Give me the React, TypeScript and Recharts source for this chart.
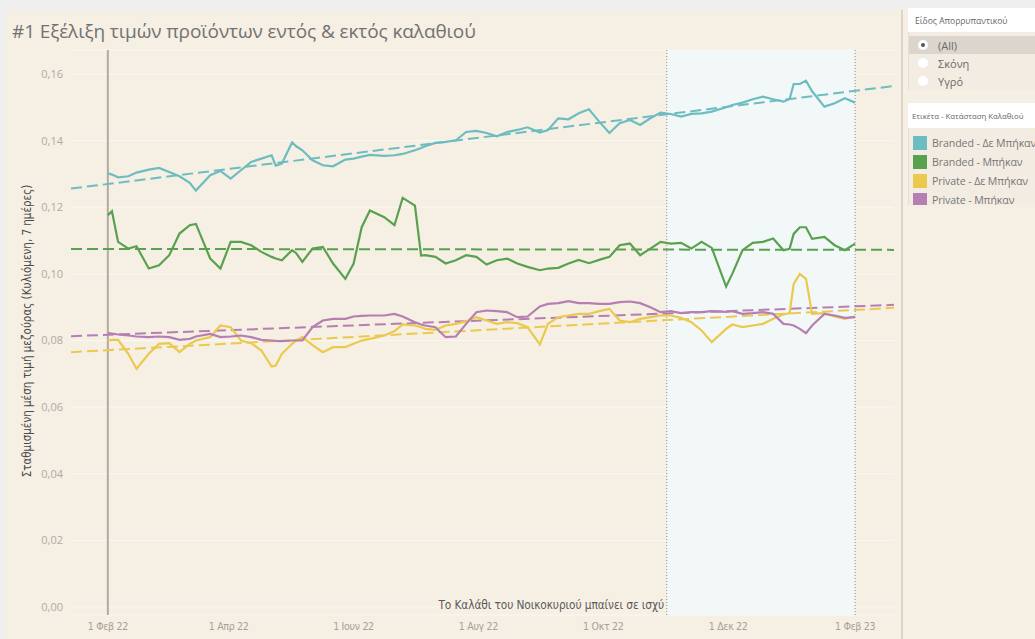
import React from 'react';
import {
  ComposedChart,
  Line,
  XAxis,
  YAxis,
  CartesianGrid,
  ReferenceArea,
  ReferenceLine,
} from 'recharts';

// days since 1 Feb 2022
const days = [
  0, 2, 5, 10, 14, 20, 25, 30, 35, 40, 43, 50, 55, 60, 65, 70, 75, 80, 82, 85,
  90, 92, 95, 100, 105, 110, 116, 120, 124, 128, 135, 140, 144, 150, 153, 155, 160, 165, 170, 175,
  180, 185, 190, 195, 200, 205, 211, 215, 220, 225, 230, 235, 240, 245, 250, 255, 260, 265, 270, 275,
  280, 285, 290, 295, 302, 305, 310, 315, 320, 325, 330, 333, 335, 338, 341, 344, 350, 355, 360, 365,
];

const brandedOut = [
  0.1302, 0.1298, 0.129, 0.1293, 0.1304, 0.1313, 0.1318, 0.1306, 0.1293, 0.1273,
  0.125, 0.1296, 0.1309, 0.1286, 0.1311, 0.1336, 0.1346, 0.1356, 0.1325, 0.1331,
  0.1395, 0.1383, 0.1371, 0.1341, 0.1326, 0.1323, 0.1343, 0.1346, 0.1352, 0.1357,
  0.1354, 0.1356, 0.136, 0.1371, 0.1378, 0.1383, 0.1393, 0.1396, 0.1401, 0.1426,
  0.1429, 0.1423, 0.1413, 0.1426, 0.1432, 0.144, 0.1424, 0.1432, 0.1467, 0.1464,
  0.1482, 0.1494, 0.1457, 0.1423, 0.1452, 0.1462, 0.1447, 0.1467, 0.1484, 0.148,
  0.1472, 0.148, 0.1482, 0.1487, 0.15, 0.1507, 0.1514, 0.1524, 0.1532, 0.1524,
  0.1517, 0.1525, 0.157, 0.157, 0.158, 0.1548, 0.1502, 0.1512, 0.1527, 0.1514,
];

const brandedIn = [
  0.1176, 0.1188, 0.1096, 0.1076, 0.1083, 0.1016, 0.1026, 0.1056, 0.1121, 0.1146,
  0.115, 0.1046, 0.1016, 0.1096, 0.1096, 0.1086, 0.1066, 0.1051, 0.1046, 0.1041,
  0.1071, 0.1062, 0.1036, 0.1076, 0.1081, 0.1031, 0.0985, 0.103, 0.114, 0.119,
  0.117, 0.1146, 0.1228, 0.1205, 0.1055, 0.1056, 0.1051, 0.1031, 0.1041, 0.1056,
  0.1051, 0.1028, 0.1041, 0.1046, 0.1031, 0.1021, 0.1011, 0.1016, 0.1018, 0.1031,
  0.1042, 0.1032, 0.1042, 0.1051, 0.1086, 0.1091, 0.1056, 0.1076, 0.1096, 0.1091,
  0.1093, 0.1076, 0.1096, 0.1078, 0.0962, 0.1, 0.1071, 0.1093, 0.1096, 0.1106,
  0.1071, 0.1075, 0.112, 0.114, 0.114, 0.1105, 0.1111, 0.1086, 0.1071, 0.1091,
];

const privateOut = [
  0.08, 0.0802, 0.0802, 0.076, 0.0715, 0.076, 0.079, 0.0792, 0.0765, 0.079,
  0.08, 0.081, 0.0845, 0.084, 0.08, 0.0792, 0.077, 0.0722, 0.0725, 0.076,
  0.079, 0.08, 0.081, 0.0786, 0.0765, 0.078, 0.078, 0.079, 0.08, 0.0805,
  0.0815, 0.0828, 0.0848, 0.0845, 0.084, 0.0835, 0.0832, 0.0845, 0.085, 0.0858,
  0.087, 0.086, 0.085, 0.0855, 0.0852, 0.084, 0.0788, 0.085, 0.087, 0.0875,
  0.088, 0.088, 0.0888, 0.0895, 0.086, 0.0855, 0.0865, 0.087, 0.0875, 0.0875,
  0.0868, 0.0855, 0.083, 0.0795, 0.0835, 0.0848, 0.084, 0.0845, 0.085, 0.0865,
  0.0878, 0.0882, 0.097, 0.1, 0.0985, 0.088, 0.0882, 0.0872, 0.0865, 0.0872,
];

const privateIn = [
  0.0822, 0.0821, 0.0818, 0.0815, 0.0812, 0.081, 0.0812, 0.081, 0.0802, 0.0805,
  0.0812, 0.082, 0.081, 0.0812, 0.0815, 0.081, 0.0802, 0.08, 0.0799, 0.0798,
  0.08, 0.08, 0.08, 0.084, 0.086, 0.0865, 0.0865, 0.0872, 0.0874, 0.0875,
  0.0875, 0.088, 0.0872, 0.0855, 0.0848, 0.0845, 0.084, 0.081, 0.0812, 0.085,
  0.0885, 0.089, 0.0888, 0.0885, 0.087, 0.0872, 0.0902, 0.091, 0.0912, 0.0918,
  0.0912, 0.0912, 0.091, 0.091, 0.0915, 0.0917, 0.0912, 0.09, 0.0885, 0.0888,
  0.0882, 0.0885, 0.0885, 0.0888, 0.0886, 0.0888, 0.088, 0.0882, 0.0885, 0.088,
  0.085, 0.0848, 0.0845, 0.0835, 0.0822, 0.0845, 0.088, 0.0875, 0.0868, 0.087,
];

// trend lines (start / end of the axis)
const trendDays = [-18, 384];
const brandedOutTrend = [0.1256, 0.1564];
const brandedInTrend = [0.1075, 0.1072];
const privateOutTrend = [0.0765, 0.0898];
const privateInTrend = [0.0813, 0.0907];

const xTicks = [0, 59, 120, 181, 242, 303, 365];
const xTickLabels = ['1 Φεβ 22', '1 Απρ 22', '1 Ιουν 22', '1 Αυγ 22', '1 Οκτ 22', '1 Δεκ 22', '1 Φεβ 23'];
const yTicks = [0, 0.02, 0.04, 0.06, 0.08, 0.1, 0.12, 0.14, 0.16];

const series = [
  { key: 'brandedOut', name: 'Branded - Δε Μπήκαν', color: '#6dbdc0', values: brandedOut, trend: brandedOutTrend },
  { key: 'brandedIn', name: 'Branded - Μπήκαν', color: '#59a14f', values: brandedIn, trend: brandedInTrend },
  { key: 'privateOut', name: 'Private - Δε Μπήκαν', color: '#ebc94e', values: privateOut, trend: privateOutTrend },
  { key: 'privateIn', name: 'Private - Μπήκαν', color: '#b57fb2', values: privateIn, trend: privateInTrend },
];

const filterOptions = ['(All)', 'Σκόνη', 'Υγρό'];

const rows = days.map((d, i) => {
  const r: Record<string, number> = { day: d };
  series.forEach((s) => (r[s.key] = s.values[i]));
  return r;
});

const bg = '#f6efe3';
const font = "'Open Sans', 'Noto Sans', sans-serif";
const narrow = "'Liberation Sans Narrow', 'DejaVu Sans Condensed', 'Roboto', sans-serif";

export default function App() {
  return (
    <div
      style={{
        position: 'absolute',
        left: 0,
        top: 0,
        width: 1035,
        height: 639,
        background: '#efefef',
        overflow: 'hidden',
        fontFamily: font,
      }}
    >
      <div style={{ position: 'absolute', left: 6, top: 10, width: 1029, height: 629, background: bg }} />
      <div
        style={{
          position: 'absolute',
          left: 12,
          top: 18,
          fontSize: 19,
          color: '#727272',
          whiteSpace: 'nowrap',
          letterSpacing: -0.1,
        }}
      >
        #1 Εξέλιξη τιμών προϊόντων εντός &amp; εκτός καλαθιού
      </div>

      <div style={{ position: 'absolute', left: 0, top: 0 }}>
        <ComposedChart width={900} height={639} data={rows} margin={{ top: 50, right: 6, bottom: 0, left: 0 }}>
          <CartesianGrid vertical={false} stroke="#fbf8f2" />
          <ReferenceArea x1={273} x2={365} fill="#f2f8f8" fillOpacity={1} stroke="none" />
          <ReferenceLine x={273} stroke="#8a8a8a" strokeDasharray="1 2" />
          <ReferenceLine x={365} stroke="#8a8a8a" strokeDasharray="1 2" />
          <ReferenceLine x={0} stroke="#b3aaa0" strokeWidth={2} />
          <XAxis
            dataKey="day"
            type="number"
            domain={[-18, 384]}
            ticks={xTicks}
            tickFormatter={(v) => xTickLabels[xTicks.indexOf(v)]}
            axisLine={false}
            tickLine={false}
            height={24}
            tick={{ fill: '#a8a098', fontSize: 10.5, fontFamily: narrow, letterSpacing: -0.3 }}
          />
          <YAxis
            type="number"
            domain={[-0.0024, 0.1672]}
            ticks={yTicks}
            tickFormatter={(v) => v.toFixed(2).replace('.', ',')}
            axisLine={false}
            tickLine={false}
            width={71}
            tick={{ fill: '#b2aaa2', fontSize: 11, fontFamily: font }}
          />
          {series.map((s) => (
            <Line
              key={s.key + '-trend'}
              data={trendDays.map((d, i) => ({ day: d, v: s.trend[i] }))}
              dataKey="v"
              stroke={s.color}
              strokeWidth={2}
              strokeDasharray="11 5"
              dot={false}
              activeDot={false}
              isAnimationActive={false}
            />
          ))}
          {series.map((s) => (
            <Line
              key={s.key}
              dataKey={s.key}
              name={s.name}
              stroke={s.color}
              strokeWidth={2.2}
              dot={false}
              activeDot={false}
              type="linear"
              isAnimationActive={false}
            />
          ))}
        </ComposedChart>
      </div>

      <div
        style={{
          position: 'absolute',
          left: 27,
          top: 331,
          transform: 'translate(-50%, -50%) rotate(-90deg)',
          fontSize: 11.5,
          color: '#4a4a4a',
          whiteSpace: 'nowrap',
          fontFamily: narrow,
        }}
      >
        Σταθμισμένη μέση τιμή μεζούρας (Κυλιόμενη, 7 ημέρες)
      </div>

      <div
        style={{
          position: 'absolute',
          right: 1035 - 664,
          top: 598,
          fontSize: 11.8,
          color: '#5a5a5a',
          whiteSpace: 'nowrap',
          fontFamily: narrow,
          letterSpacing: -0.1,
        }}
      >
        Το Καλάθι του Νοικοκυριού μπαίνει σε ισχύ
      </div>

      {/* right panel */}
      <div style={{ position: 'absolute', left: 901, top: 10, width: 2, height: 629, background: '#ddd5ca' }} />
      <div style={{ position: 'absolute', left: 908, top: 8, width: 127, overflow: 'hidden' }}>
        <div style={{ background: '#fff', height: 24, fontSize: 8.5, color: '#666', padding: '7px 0 0 7px', boxSizing: 'border-box', whiteSpace: 'nowrap' }}>
          Είδος Απορρυπαντικού
        </div>
        <div style={{ background: '#f3ece2', height: 58, paddingTop: 4, boxSizing: 'border-box', borderLeft: '1px solid #e6dfd5' }}>
          {filterOptions.map((o, i) => (
            <div
              key={o}
              style={{
                height: 18,
                display: 'flex',
                alignItems: 'center',
                background: i === 0 ? '#dcd5cd' : 'transparent',
                fontSize: 11,
                color: '#6a6a6a',
                whiteSpace: 'nowrap',
              }}
            >
              <span
                style={{
                  width: 10,
                  height: 10,
                  borderRadius: '50%',
                  background: '#fff',
                  margin: '0 10px 0 9px',
                  display: 'inline-flex',
                  alignItems: 'center',
                  justifyContent: 'center',
                }}
              >
                {i === 0 && <span style={{ width: 4, height: 4, borderRadius: '50%', background: '#555' }} />}
              </span>
              {o}
            </div>
          ))}
        </div>
        <div style={{ height: 13 }} />
        <div style={{ background: '#fff', height: 25, fontSize: 7.8, color: '#666', padding: '8px 0 0 4px', boxSizing: 'border-box', whiteSpace: 'nowrap' }}>
          Ετικέτα - Κατάσταση Καλαθιού
        </div>
        <div style={{ background: '#f3ece2', height: 77, paddingTop: 5, boxSizing: 'border-box', borderLeft: '1px solid #e6dfd5' }}>
          {series.map((s) => (
            <div
              key={s.key}
              style={{ height: 19, display: 'flex', alignItems: 'center', fontSize: 10.6, color: '#777', whiteSpace: 'nowrap', letterSpacing: -0.1 }}
            >
              <span style={{ width: 14, height: 14, background: s.color, margin: '0 5px 0 4px', flex: 'none' }} />
              {s.name}
            </div>
          ))}
        </div>
      </div>
    </div>
  );
}
